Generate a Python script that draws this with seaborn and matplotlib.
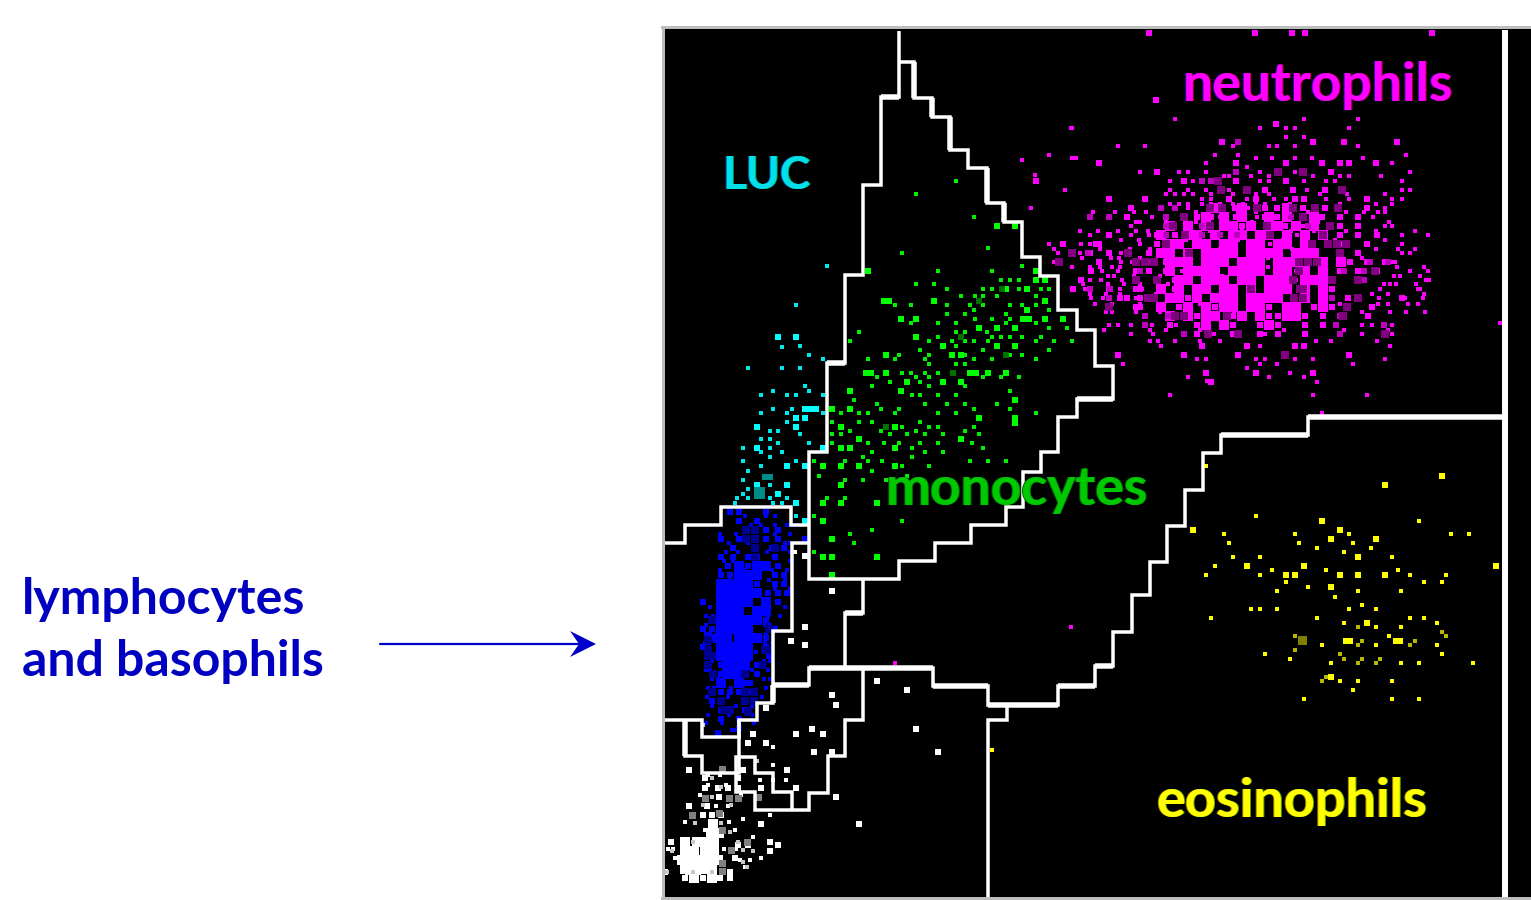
# WBC peroxidase channel scatter with gates, values in pixels
import matplotlib.pyplot as plt
from matplotlib.patches import Polygon
import seaborn as sns

# neutrophils: (y, [x...]) rows
neut_core = [
    (208, [1215, 1242, 1287]),
    (217, [1206, 1224, 1242, 1269, 1287, 1314]),
    (226, [1170, 1188, 1206, 1224, 1233, 1251, 1269, 1278, 1296, 1314]),
    (235, [1161, 1188, 1197, 1215, 1233, 1242, 1260, 1269, 1287, 1305, 1323]),
    (244, [1170, 1179, 1197, 1206, 1224, 1233, 1251, 1260, 1278, 1287, 1305]),
    (253, [1161, 1170, 1188, 1206, 1215, 1224, 1233, 1251, 1260, 1269, 1278, 1296, 1305, 1314]),
    (262, [1170, 1179, 1188, 1206, 1215, 1224, 1242, 1251, 1260, 1278, 1287, 1296, 1323, 1341]),
    (271, [1170, 1188, 1197, 1206, 1215, 1233, 1242, 1251, 1260, 1278, 1287, 1305, 1323]),
    (280, [1179, 1188, 1206, 1215, 1224, 1242, 1251, 1269, 1278, 1287, 1305, 1314, 1323]),
    (289, [1161, 1179, 1197, 1206, 1224, 1233, 1251, 1269, 1278, 1287, 1305, 1323]),
    (298, [1170, 1179, 1197, 1215, 1224, 1233, 1251, 1260, 1269, 1278, 1305, 1323]),
    (307, [1161, 1188, 1206, 1224, 1233, 1251, 1260, 1287, 1296, 1323]),
    (316, [1170, 1188, 1206, 1215, 1242, 1260, 1287, 1296]),
    (325, [1206, 1224, 1269]),
]
neut_bright = [
    (33, [1149, 1255, 1292, 1305, 1432]), (100, [1156]),
    (124, [1276]), (142, [1222, 1238, 1313, 1344, 1397]),
    (163, [1099, 1236, 1286, 1322, 1340, 1349, 1376]),
    (172, [1157, 1331]), (181, [1036, 1184, 1236, 1286]),
    (190, [1221, 1265, 1293, 1325]),
    (199, [1109, 1145, 1229, 1256, 1295, 1304, 1367]),
    (208, [1131, 1235, 1265, 1277, 1303, 1325, 1367]),
    (217, [1127, 1166, 1197, 1211, 1236, 1265, 1277, 1303, 1322, 1340, 1358]),
    (226, [1173, 1189, 1242, 1285, 1340, 1358]),
    (235, [1109, 1157, 1175, 1340, 1358, 1377]),
    (244, [1063, 1099, 1096, 1157, 1175, 1340, 1367]),
    (253, [1090, 1109, 1149, 1166, 1340, 1358]),
    (262, [1099, 1166, 1175, 1350, 1367, 1385]),
    (271, [1091, 1136, 1149, 1166, 1340, 1358, 1377]),
    (280, [1081, 1136, 1175, 1332, 1358]),
    (289, [1073, 1109, 1136, 1140, 1175, 1332]),
    (298, [1120, 1127, 1140, 1188, 1332, 1348, 1402]),
    (307, [1136, 1140, 1179, 1215, 1269, 1314, 1332, 1372]),
    (316, [1145, 1188, 1197, 1233, 1269, 1278, 1305, 1323, 1368]),
    (325, [1145, 1170, 1197, 1233, 1260, 1278, 1305, 1323]),
    (334, [1197, 1233, 1260, 1278, 1305]),
    (346, [1202, 1247, 1295, 1304]),
    (355, [1118, 1184, 1238, 1349]),
    (373, [1206, 1256, 1313]), (382, [1211]),
]
neut_small = [
    (119, [1175, 1304, 1358]), (128, [1072, 1286, 1295, 1260, 1349]),
    (137, [1286, 1304]), (146, [1118, 1145, 1233, 1269, 1277, 1295, 1358]),
    (155, [1049, 1238, 1215, 1406]), (158, [1076, 1256, 1272, 1295, 1312, 1363]),
    (163, [1206, 1392]), (167, [1247]),
    (172, [1140, 1179, 1188, 1206, 1260, 1278, 1295, 1303, 1410]),
    (176, [1224, 1229, 1251, 1269, 1313, 1340, 1349, 1381]),
    (181, [1170, 1193, 1202, 1211, 1260, 1269, 1304, 1326, 1335, 1402]),
    (190, [1170, 1188, 1206, 1229, 1307, 1402, 1410]),
    (194, [1166, 1175, 1184, 1193, 1211, 1233, 1256, 1269, 1320, 1347, 1385]),
    (199, [1202, 1211, 1247, 1274, 1286, 1326, 1349, 1392, 1402]),
    (204, [1170, 1179, 1188, 1202, 1211, 1220, 1233, 1243, 1256, 1265, 1290, 1340, 1376, 1392]),
    (208, [1031, 1161, 1175, 1188, 1248, 1385]),
    (212, [1093, 1115, 1134, 1146, 1196, 1238, 1256, 1308, 1346, 1364, 1378, 1385]),
    (217, [1090, 1109, 1152, 1220, 1257, 1373]),
    (222, [1136, 1140, 1166, 1196, 1252, 1318, 1389]),
    (226, [1131, 1202, 1230, 1267, 1303, 1330, 1385, 1392]),
    (231, [1080, 1098, 1118, 1136, 1148, 1210, 1242, 1291, 1314, 1346, 1376, 1415]),
    (235, [1090, 1131, 1149, 1202, 1220, 1297, 1402, 1428]),
    (240, [1121, 1139, 1186, 1238, 1283, 1335, 1385]),
    (244, [1049, 1081, 1090, 1140, 1270, 1402]),
    (249, [1054, 1100, 1130, 1150, 1220, 1292, 1376, 1398, 1415]),
    (253, [1058, 1080, 1121, 1128, 1402, 1410]),
    (258, [1082, 1111, 1119, 1140, 1166, 1268, 1362]),
    (262, [1054, 1121, 1132, 1350, 1392, 1395]),
    (267, [1072, 1090, 1100, 1112, 1120, 1186, 1268, 1397, 1424]),
    (271, [1102, 1118, 1182, 1296, 1410, 1428]),
    (276, [1108, 1114, 1134, 1160, 1222, 1394, 1400, 1420]),
    (280, [1090, 1101, 1122, 1156, 1296, 1426, 1429]),
    (284, [1083, 1108, 1124, 1140, 1168, 1226, 1384, 1390, 1396, 1416]),
    (289, [1085, 1120, 1142, 1236, 1380, 1418, 1420]),
    (294, [1090, 1106, 1120, 1156, 1226, 1320, 1372, 1388, 1424]),
    (298, [1091, 1103, 1136, 1379, 1405, 1423]),
    (304, [1095, 1112, 1140, 1200, 1260, 1340, 1378, 1388, 1408, 1418]),
    (312, [1106, 1112, 1136, 1160, 1190, 1234, 1362, 1390, 1406, 1425]),
    (325, [1109, 1118, 1131, 1152, 1176, 1362, 1372, 1392]),
    (330, [1104, 1150, 1166, 1200, 1284, 1344, 1388]),
    (334, [1131, 1153, 1214, 1265, 1362, 1385, 1392]),
    (341, [1150, 1158, 1175, 1200, 1220, 1316, 1331, 1377]),
    (346, [1161, 1260, 1390]),
    (359, [1197, 1206, 1256, 1265, 1295, 1313, 1385]),
    (364, [1123, 1260, 1277, 1353]), (368, [1247]),
    (373, [1206, 1290]), (377, [1188, 1269, 1304]),
    (382, [1317]), (395, [1170, 1313, 1367]),
    (323, [1500]), (413, [1322]), (381, [1207]), (627, [1071]), (663, [895]),
    (190, [1065]), (158, [1072]), (128, [1071]), (175, [1035]), (160, [1022]),
]
neut_mid = [
    (142, [1238]), (172, [1236]), (181, [1202, 1211]), (208, [1161, 1175]),
    (226, [1166, 1202, 1308]), (217, [1090, 1109, 1166, 1291]),
    (235, [1166, 1202, 1220, 1237]), (253, [1088, 1189]), (262, [1135, 1150, 1370, 1388]),
    (271, [1140, 1344, 1364]), (280, [1136, 1364]), (289, [1090, 1110]),
    (298, [1109, 1332, 1358]), (316, [1145, 1168, 1340]), (325, [1145, 1336, 1384]),
    (334, [1184, 1340]),
]
neut_dark = [
    (181, [1218]), (172, [1278, 1303]), (190, [1221, 1247, 1342]), (208, [1210, 1222, 1257, 1293, 1315, 1338]),
    (217, [1184, 1303]), (226, [1173, 1210, 1267, 1330]), (235, [1185, 1270, 1323]),
    (244, [1166, 1312, 1328, 1337, 1346]), (253, [1072, 1128, 1189, 1340]),
    (262, [1059, 1136, 1145, 1154, 1299, 1308, 1317]), (271, [1299, 1375]),
    (280, [1136, 1157, 1293, 1332, 1358]), (289, [1251, 1300, 1303]),
    (298, [1148, 1154, 1294, 1303, 1358]), (307, [1109, 1347]),
    (316, [1175, 1184, 1227, 1343]), (334, [1208, 1238, 1385]),
    (355, [1285]),
]

# lymphocytes and basophils
lymph_core = [
    (566, [739, 757, 766]), (575, [739, 748, 757]),
    (584, [721, 730, 739, 748]), (593, [721, 730, 739, 748, 757]),
    (602, [721, 730, 739, 748, 766]), (611, [721, 730, 739, 757, 766]),
    (620, [721, 730, 739, 748, 757]), (629, [721, 730, 739, 748]),
    (638, [718, 727, 739, 748, 757]), (647, [721, 730, 739, 748]),
    (656, [721, 730, 739, 748]), (665, [727, 736, 745]),
    (674, [727, 736]), (683, [721, 739]),
]
lymph_bright = [
    (512, [730, 739, 766]), (521, [739, 757]), (530, [766, 778]),
    (539, [721, 739, 766, 778, 805]), (548, [733, 772, 784]),
    (557, [721, 733, 748, 757, 775]), (566, [728, 748, 778]), (575, [721, 730, 775, 784]),
    (584, [757, 775, 784]), (593, [768, 778, 787]), (602, [703, 778]),
    (611, [760, 766]), (620, [712, 766]), (629, [703, 712, 775]),
    (638, [712, 766]), (647, [703, 766]), (656, [769]),
    (665, [721, 757]), (674, [714, 721, 745, 757]), (683, [745, 750]),
    (692, [721, 730, 739, 748]), (701, [712, 721, 745]), (710, [721, 745]),
    (719, [721, 739]), (728, [739]), (733, [718]),
]
lymph_small = [
    (516, [745, 766, 775]), (525, [751, 761, 775, 787, 795]), (534, [720, 736, 775, 790]),
    (543, [729, 748, 785, 790]), (552, [726, 738, 767, 790]), (561, [724, 733, 790]),
    (570, [720, 745, 772, 787]), (580, [730, 745, 769, 785]), (589, [775, 790]),
    (607, [710, 722, 763, 785]), (616, [706, 713, 768, 780]), (625, [706, 765, 770]),
    (634, [706, 710, 766]), (643, [705, 709, 765, 772]), (652, [708, 756, 768]),
    (661, [712, 764, 770]), (670, [706, 710, 752, 768]), (679, [712, 718, 764, 770]),
    (688, [708, 714, 731, 766]), (697, [707, 728, 762]), (706, [712, 736, 752]),
    (715, [708, 729, 752]), (723, [706, 722, 754]), (730, [732, 736]),
]
lymph_dark = [
    (530, [746, 755]), (539, [746, 755]), (548, [755, 775]), (557, [755]),
    (620, [712]), (629, [769]), (640, [708]), (650, [708, 765, 769]),
    (656, [708, 712]), (665, [708, 763]), (674, [713, 745, 745]),
    (692, [712, 745, 754]), (701, [721, 745, 754]), (710, [723, 730]), (712, [748]),
]

# monocytes
mono_big = [
    (997, 226), (1015, 226), (868, 271), (1036, 271), (1036, 280), (1045, 280),
    (1006, 289), (1027, 289), (884, 301), (889, 301), (934, 301), (1045, 301),
    (1027, 310), (901, 319), (916, 319), (1023, 319), (1029, 319), (1045, 319),
    (1063, 319), (979, 328), (997, 328), (1015, 328), (916, 337), (943, 346),
    (997, 346), (1015, 346), (886, 355), (952, 355), (961, 355), (1006, 355),
    (866, 373), (871, 373), (886, 373), (970, 373), (976, 373), (988, 373), (1006, 373),
    (907, 382), (943, 382), (961, 382), (850, 391), (901, 391), (1015, 400),
    (832, 409), (850, 409), (979, 418), (1015, 418), (1015, 423), (841, 427),
    (886, 427), (895, 427), (859, 439), (961, 439), (841, 448), (850, 448),
    (895, 448), (823, 466), (841, 466), (859, 466), (895, 466), (841, 485),
    (823, 503), (841, 503), (877, 503), (823, 521), (832, 539), (823, 557),
    (832, 557), (877, 557), (832, 575),
]
mono_small = [
    (181, [956]), (194, [916]), (217, [974]), (248, [988]), (253, [902]), (266, [1022]),
    (271, [938, 992]), (280, [1001, 1010, 1019]), (284, [916, 934]),
    (289, [947, 983, 992, 1019, 1041, 1049]), (296, [961, 975, 983, 997, 1036]),
    (305, [895, 911, 947, 970, 983, 1010, 1022, 1036]), (310, [974, 1049]),
    (314, [947, 965, 1006]), (319, [975, 992, 1010]), (323, [911, 938, 956, 1006, 1036]),
    (328, [1049, 1067]), (332, [859, 956, 965, 987]),
    (337, [938, 992, 1001, 1010, 1022, 1041]),
    (341, [850, 929, 952, 965, 974, 988, 1036, 1054, 1072]), (346, [956]),
    (350, [920, 983, 1049]), (355, [899, 929, 965, 1010, 1022]),
    (359, [868, 895, 925, 974, 992, 1036]), (364, [929, 956, 965]),
    (373, [902, 911, 925, 938]), (377, [877, 916, 929, 983, 1001, 1019]),
    (382, [890, 920]), (386, [872, 929, 965]), (391, [1010]),
    (395, [912, 920, 938, 956]), (400, [854]), (404, [877, 925, 947, 965, 997]),
    (409, [881, 899, 974, 1010]), (413, [841, 859, 868, 895, 938, 956, 1036]),
    (422, [832, 859, 872, 920]), (427, [902, 929, 938, 974]),
    (431, [850, 881, 916, 965]), (434, [832, 841, 890, 907, 925, 943, 979]),
    (443, [832, 868, 884, 899, 920, 938, 972]), (448, [912, 983]),
    (452, [872, 925, 943]), (457, [863, 912]),
    (461, [814, 845, 868, 882, 970, 988, 1006]), (466, [902, 929]), (471, [872]),
    (476, [819, 907]), (480, [845, 863, 886]), (498, [827, 845]), (516, [814]),
    (521, [902]), (530, [872]), (534, [850]), (543, [854]), (552, [814]),
]
mono_dark = [(979, 301), (961, 337), (953, 373), (1006, 355), (886, 427), (1002, 289)]

# LUC
luc_big = [
    (778, 337), (796, 337), (796, 418), (805, 418), (796, 427), (757, 427), (823, 448),
    (757, 448), (805, 466), (787, 466), (787, 485), (757, 485), (778, 494), (796, 503),
    (805, 521), (805, 409), (811, 409), (816, 409),
]
luc_small = [
    (827, 266), (796, 305), (782, 347), (800, 346), (809, 355), (823, 359), (748, 368),
    (782, 368), (800, 368), (805, 386), (773, 391), (809, 391), (761, 395), (787, 395),
    (796, 395), (823, 395), (773, 409), (792, 409), (761, 413), (787, 413), (823, 413),
    (787, 422), (770, 431), (778, 431), (800, 434), (761, 439), (770, 439), (778, 443),
    (809, 443), (743, 448), (770, 448), (761, 452), (782, 452), (770, 457), (743, 461),
    (796, 461), (761, 466), (748, 471), (743, 480), (770, 485), (748, 489), (743, 494),
    (737, 498), (748, 498), (770, 498), (787, 498), (735, 503), (773, 503), (782, 503),
    (796, 516),
]
luc_dark = [(765, 477), (770, 477), (757, 490), (757, 496), (762, 490), (762, 496)]

# eosinophils
eos_big = [
    (1442, 476), (1385, 485), (1322, 521), (1340, 530), (1193, 530), (1331, 539),
    (1376, 539), (1358, 557), (1247, 566), (1304, 566), (1496, 566), (1286, 575),
    (1295, 575), (1340, 575), (1358, 575), (1385, 575), (1331, 587), (1367, 623),
    (1346, 641), (1350, 641), (1396, 641), (1400, 641), (1331, 677),
]
eos_small = [
    (1206, 466), (1256, 516), (1419, 521), (1224, 534), (1295, 534), (1349, 534),
    (1451, 534), (1469, 534), (1229, 543), (1299, 543), (1353, 543), (1317, 548),
    (1371, 548), (1344, 552), (1233, 557), (1260, 557), (1392, 557), (1215, 566),
    (1272, 570), (1326, 570), (1398, 570), (1206, 575), (1260, 575), (1410, 575),
    (1446, 575), (1286, 582), (1424, 582), (1442, 582), (1308, 587), (1277, 591),
    (1358, 591), (1401, 591), (1335, 597), (1362, 605), (1251, 609), (1260, 609),
    (1277, 609), (1349, 609), (1376, 609), (1211, 618), (1317, 618), (1410, 618),
    (1424, 618), (1344, 623), (1437, 623), (1376, 627), (1401, 627), (1389, 636),
    (1322, 645), (1376, 645), (1437, 645), (1265, 654), (1442, 654), (1290, 659),
    (1331, 663), (1401, 663), (1419, 663), (1473, 663), (1340, 681), (1358, 681),
    (1392, 681), (1353, 690), (1304, 699), (1392, 699), (1419, 699), (992, 750),
]
eos_mid = [
    (1358, 627), (1442, 632), (1446, 636), (1295, 636), (1415, 641), (1362, 641),
    (1358, 645), (1295, 650), (1410, 645), (1340, 654), (1344, 659), (1362, 659),
    (1380, 659), (1358, 663), (1376, 663), (1322, 681), (1326, 677),
]
eos_dark = [(1302, 640)]

# nucleated debris / white cluster bottom left
debris_core = [
    (842, [685, 697, 705, 714]), (851, [685, 694, 705, 714]),
    (860, [682, 691, 700, 709, 718]), (869, [685, 694, 703, 712]),
    (878, [694, 712]), (833, [711, 719]), (824, [713]),
]
debris_bright = [
    (878, [685, 703, 720, 730]), (872, [665, 688, 698, 730]), (869, [703]), (858, [735]),
    (845, [738, 748, 778]), (842, [671, 770]), (851, [770]),
    (824, [859, 761]), (806, [689, 707]), (797, [836]), (788, [761, 796, 705, 718]),
    (770, [689, 743, 787]), (752, [814, 832, 938]), (743, [748, 766]),
    (734, [753, 796, 823]), (729, [812, 916]), (708, [766]), (705, [836]),
    (695, [832]), (690, [907]), (681, [877]), (645, [805]), (641, [791]),
    (627, [805]), (591, [832]), (556, [805]), (815, [703, 712, 721]),
    (778, [705, 738]), (797, [719]), (788, [728, 738]),
]
debris_small = [
    (552, [795]), (747, [773]), (765, [773]), (819, [743]), (815, [770]), (837, [753]),
    (858, [761, 675]), (849, [668, 673, 724, 736]), (860, [740, 750]), (867, [745]),
    (830, [735, 705]), (822, [685, 729]), (806, [716, 728]), (795, [700, 741]),
    (785, [708, 726]), (780, [760, 773, 786]), (775, [708, 720]),
]
debris_grey = [
    (769, [722]), (798, [705, 729, 738]), (815, [692]), (813, [719]), (830, [722]),
    (850, [731]), (863, [722]), (871, [722]), (842, [747]), (797, [758]),
]
debris_light = [
    (725, [703]), (761, [757]), (778, [712]), (787, [721]), (797, [712]), (805, [703, 731]),
    (823, [695, 721]), (832, [730]), (842, [693, 738]), (851, [672, 753]), (850, [743]),
    (872, [667, 693, 712]), (862, [743]), (867, [747]),
]

# gate outlines
mono_gate_x = [899, 899, 881, 881, 863, 863, 845, 845, 827, 827, 809, 809, 899, 899, 935, 935,
               971, 971, 1006, 1006, 1023, 1023, 1041, 1041, 1058, 1058, 1077, 1077, 1113, 1113,
               1095, 1095, 1077, 1077, 1058, 1058, 1040, 1040, 1022, 1022, 1004, 1004, 987, 987,
               968, 968, 950, 950, 932, 932, 914, 914, 900]
mono_gate_y = [31, 97, 97, 185, 185, 275, 275, 363, 363, 452, 452, 579, 579, 561, 561, 543,
               543, 525, 525, 507, 507, 472, 472, 452, 452, 417, 417, 399, 399, 366,
               366, 330, 330, 310, 310, 276, 276, 257, 257, 222, 222, 203, 203, 168,
               168, 150, 150, 117, 117, 98, 98, 62, 62]
lymph_top_x = [664, 685, 685, 721, 721, 791, 791, 809]
lymph_top_y = [543, 543, 525, 525, 507, 507, 525, 525]
lymph_right_x = [809, 792, 792, 773, 773, 757, 757, 739, 739, 702, 702, 664]
lymph_right_y = [543, 543, 631, 631, 703, 703, 720, 720, 737, 737, 720, 720]
base_x = [773, 809, 809, 933, 933, 988, 988, 1058, 1058, 1095, 1095, 1113, 1113, 1132, 1132, 1150,
          1150, 1167, 1167, 1185, 1185, 1203, 1203, 1221, 1221, 1308, 1308, 1503]
base_y = [685, 685, 668, 668, 686, 686, 705, 705, 686, 686, 666, 666, 632, 632, 595, 595,
          562, 562, 526, 526, 490, 490, 453, 453, 435, 435, 417, 417]
inner_x = [863, 863, 845, 845, 863, 863, 845, 845, 828, 828, 809, 809, 755, 755, 736, 736, 755, 755,
           773, 773, 792, 792]
inner_y = [580, 613, 613, 668, 668, 720, 720, 756, 756, 793, 793, 810, 810, 792, 792, 757, 757, 773,
           773, 792, 792, 810]
debris_gate_x = [685, 685, 702, 702, 739, 739]
debris_gate_y = [720, 756, 756, 773, 773, 720]
split_x = [988, 988, 1007, 1007]
split_y = [897, 720, 720, 705]
right_x = [1505, 1505]
right_y = [30, 897]
thick_x = [[914, 914], [932, 932], [950, 950], [987, 987], [1004, 1004], [685, 685], [773, 773],
           [809, 933], [933, 988], [988, 1058], [1058, 1095], [1308, 1503], [1221, 1308],
           [773, 809], [845, 863], [827, 845], [1077, 1113], [881, 899], [1095, 1113]]
thick_y = [[62, 98], [98, 117], [117, 150], [168, 203], [203, 222], [720, 756], [685, 703],
           [668, 668], [686, 686], [705, 705], [686, 686], [417, 417], [435, 435],
           [685, 685], [613, 613], [363, 363], [399, 399], [97, 97], [666, 666]]
arrow_x = [380, 580]
arrow_y = [644, 644]
arrow_head = [(570, 631), (596, 644), (570, 657), (579, 644)]

PX = 0.72  # points per pixel at dpi 100


def rows_xy(rows):
    xs = [x for y, row in rows for x in row]
    ys = [y for y, row in rows for x in row]
    return xs, ys


def dots(ax, xs, ys, color, px):
    sns.scatterplot(x=xs, y=ys, color=color, s=(px * PX) ** 2, marker="s",
                    linewidth=0, ax=ax, legend=False)


def gate(ax, xs, ys, px=3.5):
    sns.lineplot(x=xs, y=ys, color="white", linewidth=px * PX, sort=False, estimator=None,
                 errorbar=None, ax=ax, legend=False, solid_joinstyle="miter", solid_capstyle="butt")


def label(ax, x, y, text, color, left, right, size):
    # screen-font colour fringes either side of the letters
    ax.text(x - 1, y, text, color=left, fontsize=size, fontweight="bold", va="center", ha="left")
    ax.text(x + 1, y, text, color=right, fontsize=size, fontweight="bold", va="center", ha="left")
    ax.text(x, y, text, color=color, fontsize=size, fontweight="bold", va="center", ha="left")


sns.set_style("white")
plt.rcParams["font.family"] = ["Lato", "DejaVu Sans"]

fig = plt.figure(figsize=(15.31, 9), dpi=100)
ax = fig.add_axes([662.5 / 1531, 2 / 900, 868.5 / 1531, 871.5 / 900])
ax.set_facecolor("black")
ax.set_xlim(662.5, 1531)
ax.set_ylim(898, 26.5)
ax.set_xticks([])
ax.set_yticks([])
for side, spine in ax.spines.items():
    spine.set_color("#bdbdbd")
    spine.set_linewidth(3 * PX)
    spine.set_visible(side != "right")

# neutrophils
dots(ax, *rows_xy(neut_core), "#ff00ff", 9.5)
dots(ax, *rows_xy(neut_small), "#ff00ff", 5)
dots(ax, *rows_xy(neut_bright), "#ff00ff", 6.5)
dots(ax, *rows_xy(neut_mid), "#c000c0", 6)
dots(ax, *rows_xy(neut_dark), "#800080", 8)

# lymphocytes
dots(ax, *rows_xy(lymph_core), "#0000ff", 9.5)
dots(ax, *rows_xy(lymph_small), "#0000f0", 5)
dots(ax, *rows_xy(lymph_bright), "#0000ff", 6.5)
dots(ax, *rows_xy(lymph_dark), "#000090", 8)

# monocytes
dots(ax, *rows_xy(mono_small), "#00f000", 4)
dots(ax, [p[0] for p in mono_big], [p[1] for p in mono_big], "#00ff00", 6)
dots(ax, [p[0] for p in mono_dark], [p[1] for p in mono_dark], "#007000", 6)

# LUC
dots(ax, [p[0] for p in luc_small], [p[1] for p in luc_small], "#00e8e8", 4)
dots(ax, [p[0] for p in luc_big], [p[1] for p in luc_big], "#00ffff", 6)
dots(ax, [p[0] for p in luc_dark], [p[1] for p in luc_dark], "#008b8b", 6)

# eosinophils
dots(ax, [p[0] for p in eos_small], [p[1] for p in eos_small], "#ffff00", 4)
dots(ax, [p[0] for p in eos_big], [p[1] for p in eos_big], "#ffff00", 6)
dots(ax, [p[0] for p in eos_mid], [p[1] for p in eos_mid], "#b8b800", 4)
dots(ax, [p[0] for p in eos_dark], [p[1] for p in eos_dark], "#808000", 9)

# white debris
dots(ax, *rows_xy(debris_small), "white", 4)
dots(ax, *rows_xy(debris_core), "white", 9.5)
dots(ax, *rows_xy(debris_bright), "white", 6)
dots(ax, *rows_xy(debris_light), "#c8c8c8", 5)
dots(ax, *rows_xy(debris_grey), "#808080", 7)

# gates
for xs, ys in [(mono_gate_x, mono_gate_y), (lymph_top_x, lymph_top_y), (lymph_right_x, lymph_right_y),
               (base_x, base_y), (inner_x, inner_y), (debris_gate_x, debris_gate_y), (split_x, split_y)]:
    gate(ax, xs, ys)
for xs, ys in zip(thick_x, thick_y):
    gate(ax, xs, ys, 5.5)
gate(ax, right_x, right_y, 6)

# labels
label(ax, 1183, 85, "neutrophils", "#ff00ff", "#3000c0", "#a00020", 38.5)
label(ax, 722, 176, "LUC", "#00e0e8", "#0060c0", "#00a060", 33)
label(ax, 886, 489, "monocytes", "#00c800", "#006000", "#008000", 38.5)
label(ax, 1156, 801, "eosinophils", "#ffff00", "#a08000", "#60a000", 39)

fig.text(22 / 1531, 1 - 600 / 900, "lymphocytes", color="#0000c0", fontsize=36, fontweight="bold", va="center")
fig.text(22 / 1531, 1 - 661 / 900, "and basophils", color="#0000c0", fontsize=36, fontweight="bold", va="center")

# arrow from the label to the gate
ax.plot(arrow_x, arrow_y, color="#0000cc", linewidth=2.2 * PX, clip_on=False)
ax.add_patch(Polygon(arrow_head, closed=True, facecolor="#0000cc", edgecolor="none", clip_on=False))
ax.set_xlim(662.5, 1531)

fig.savefig("out.png", dpi=100)
plt.close(fig)
